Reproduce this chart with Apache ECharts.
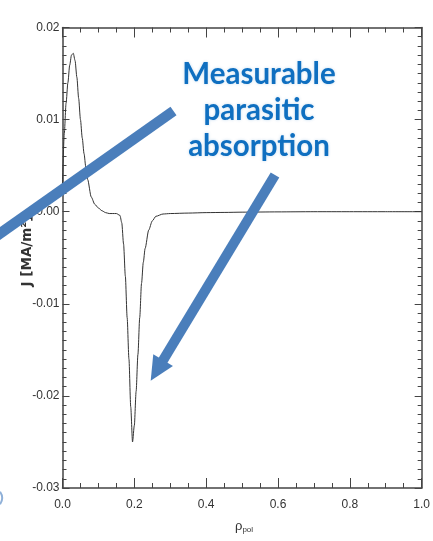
<!DOCTYPE html>
<html>
<head>
<meta charset="utf-8">
<script src="https://cdn.jsdelivr.net/npm/echarts@6/dist/echarts.min.js"></script>
<style>
  html, body { margin: 0; padding: 0; background: #fff; }
  #chart { width: 433px; height: 541px; }
</style>
</head>
<body>
<div id="chart"></div>
<script>
// Current density profile J versus normalized poloidal radius
const rhoPol = [0, 0.005, 0.01, 0.015, 0.02, 0.025, 0.03, 0.035, 0.04, 0.045, 0.05, 0.055, 0.06, 0.065, 0.07, 0.08, 0.09, 0.10, 0.11, 0.12, 0.13, 0.14, 0.15, 0.16, 0.165, 0.17, 0.175, 0.18, 0.185, 0.19, 0.195, 0.20, 0.205, 0.21, 0.215, 0.22, 0.225, 0.23, 0.24, 0.25, 0.26, 0.28, 0.30, 0.35, 0.40, 0.45, 0.50, 0.60, 0.70, 0.80, 0.90, 1.00];
const jValues = [0.0030, 0.0085, 0.0118, 0.0140, 0.0159, 0.0170, 0.0172, 0.0164, 0.0146, 0.0123, 0.0100, 0.0080, 0.0063, 0.0048, 0.0035, 0.0016, 0.0008, 0.0004, 0.0001, -0.0001, -0.0002, -0.0002, -0.0002, -0.0004, -0.0012, -0.0035, -0.0070, -0.0115, -0.0160, -0.0212, -0.0250, -0.0232, -0.0195, -0.0155, -0.0115, -0.0078, -0.0055, -0.0040, -0.0020, -0.0010, -0.0005, -0.00025, -0.0002, -0.00015, -0.0001, -0.00008, -0.00005, -0.00002, 0, 0, 0, 0];

const xTicks = ['0.0', '0.2', '0.4', '0.6', '0.8', '1.0'];
const yTicks = ['-0.03', '-0.02', '-0.01', '0.00', '0.01', '0.02'];

const yTitle = 'J [MA/m²]';
const noteLines = ['Measurable', 'parasitic', 'absorption'];

const chart = echarts.init(document.getElementById('chart'), null, { renderer: 'canvas' });

const axisColor = '#444';
const labelFont = "'Liberation Sans', Arial, sans-serif";
const arrowBlue = '#4a7ebb';

const frameAxis = {
  axisLine: { show: true, onZero: false, lineStyle: { color: axisColor, width: 1.5 } },
  axisTick: { show: true, inside: true, length: 10, lineStyle: { color: axisColor, width: 1 } },
  minorTick: { show: true, splitNumber: 4, length: 5, lineStyle: { color: axisColor, width: 1 } },
  splitLine: { show: false }
};

const data = rhoPol.map((r, i) => [r, jValues[i]]);

chart.setOption({
  animation: false,
  backgroundColor: '#fff',
  grid: { left: 62.5, right: 10.5, top: 27.5, bottom: 53 },
  xAxis: [
    Object.assign({}, frameAxis, {
      type: 'value', position: 'bottom', min: 0, max: 1, interval: 0.2,
      axisLabel: {
        color: '#333', fontFamily: labelFont, fontSize: 12, margin: 11,
        formatter: v => xTicks[Math.round(v / 0.2)]
      }
    }),
    Object.assign({}, frameAxis, {
      type: 'value', position: 'top', min: 0, max: 1, interval: 0.2,
      axisLabel: { show: false }
    })
  ],
  yAxis: [
    Object.assign({}, frameAxis, {
      type: 'value', position: 'left', min: -0.03, max: 0.02, interval: 0.01,
      minorTick: Object.assign({}, frameAxis.minorTick, { splitNumber: 10, length: 4 }),
      axisTick: Object.assign({}, frameAxis.axisTick, { length: 7 }),
      axisLabel: {
        color: '#333', fontFamily: labelFont, fontSize: 12, margin: 3,
        formatter: v => yTicks[Math.round((v + 0.03) / 0.01)]
      }
    }),
    Object.assign({}, frameAxis, {
      type: 'value', position: 'right', min: -0.03, max: 0.02, interval: 0.01,
      minorTick: Object.assign({}, frameAxis.minorTick, { splitNumber: 10, length: 4 }),
      axisTick: Object.assign({}, frameAxis.axisTick, { length: 7 }),
      axisLabel: { show: false }
    })
  ],
  series: [{
    type: 'line',
    data: data,
    showSymbol: false,
    smooth: 0.25,
    smoothMonotone: 'x',
    lineStyle: { color: '#333', width: 1 },
    z: 3
  }]
});

// Annotation: axis titles, callout text and blue arrows
function arrowHead(x1, y1, x2, y2, len, half) {
  const dx = x2 - x1, dy = y2 - y1;
  const L = Math.hypot(dx, dy);
  const ux = dx / L, uy = dy / L;
  const bx = x2 - ux * len, by = y2 - uy * len;
  return {
    shaftEnd: [x2 - ux * (len - 2), y2 - uy * (len - 2)],
    points: [[x2, y2], [bx - uy * half, by + ux * half], [bx + uy * half, by - ux * half]]
  };
}

const a2 = arrowHead(275, 175, 150.7, 380.7, 24, 11.5);

chart.setOption({
  graphic: [
    {
      type: 'text', z: 5,
      x: 27, y: 251, rotation: Math.PI / 2,
      style: {
        text: yTitle, align: 'center', verticalAlign: 'middle',
        fontFamily: "'DejaVu Sans', sans-serif", fontWeight: 'bold', fontSize: 13.5,
        fill: '#333'
      }
    },
    {
      type: 'text', z: 5,
      x: 235, y: 526,
      style: {
        rich: {
          r: { fontFamily: labelFont, fontSize: 13, fill: '#333' },
          s: { fontFamily: labelFont, fontSize: 8, fill: '#333', padding: [7, 0, 0, 0] }
        },
        text: '{r|ρ}{s|pol}', align: 'left', verticalAlign: 'middle'
      }
    },
    {
      type: 'line', z: 10,
      shape: { x1: -12, y1: 242, x2: 173.5, y2: 111 },
      style: { stroke: arrowBlue, lineWidth: 10.5, lineCap: 'butt' }
    },
    {
      type: 'line', z: 10,
      shape: { x1: 275, y1: 175, x2: a2.shaftEnd[0], y2: a2.shaftEnd[1] },
      style: { stroke: arrowBlue, lineWidth: 10, lineCap: 'butt' }
    },
    {
      type: 'polygon', z: 10,
      shape: { points: a2.points },
      style: { fill: arrowBlue }
    },
    {
      type: 'arc', z: 10,
      shape: { cx: -9, cy: 498, r: 11, startAngle: -0.6, endAngle: 0.6 },
      style: { stroke: '#8fb0d8', lineWidth: 2, fill: null }
    },
    {
      type: 'text', z: 11,
      x: 259, y: 56,
      style: {
        text: noteLines.join('\n'),
        align: 'center', verticalAlign: 'top',
        fontFamily: 'Lato, "Open Sans", sans-serif', fontWeight: 'bold', fontSize: 29.5,
        lineHeight: 36,
        fill: '#0f6fc0',
        textShadowColor: 'rgba(15,111,192,0.25)', textShadowBlur: 3
      }
    }
  ]
});
</script>
</body>
</html>
